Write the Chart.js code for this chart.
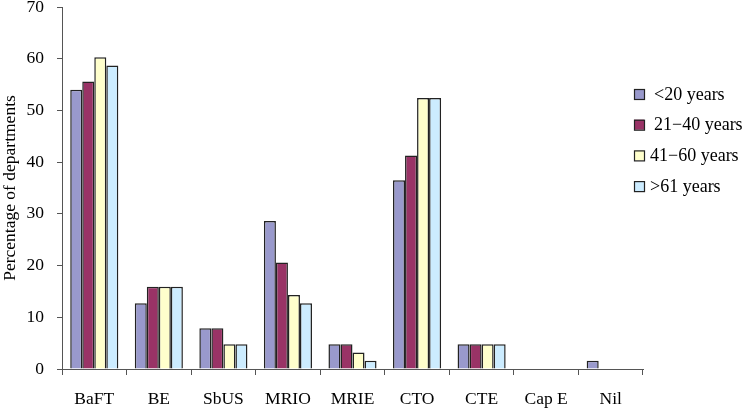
<!DOCTYPE html>
<html>
<head>
<meta charset="utf-8">
<script src="https://cdn.jsdelivr.net/npm/chart.js@4"></script>
<style>
html,body{margin:0;padding:0;background:#fff;}
#wrap{width:747px;height:408px;position:relative;}
</style>
</head>
<body>
<div id="wrap"><canvas id="c"></canvas></div>
<script>
const categories = ["BaFT", "BE", "SbUS", "MRIO", "MRIE", "CTO", "CTE", "Cap E", "Nil"];
const seriesNames = ["<20 years", "21\u221240 years", "41\u221260 years", ">61 years"];
const under20 = [54.0, 12.7, 7.9, 28.6, 4.8, 36.5, 4.8, 0, 1.6];
const age21to40 = [55.6, 15.9, 7.9, 20.6, 4.8, 41.3, 4.8, 0, 0];
const age41to60 = [60.3, 15.9, 4.8, 14.3, 3.2, 52.4, 4.8, 0, 0];
const over61 = [58.7, 15.9, 4.8, 12.7, 1.6, 52.4, 4.8, 0, 0];
const yTicks = [0, 10, 20, 30, 40, 50, 60, 70];
const yTitle = "Percentage of departments";

const colors = ["#9999CC", "#993366", "#FFFFCC", "#CCECFF"];
const seriesData = [under20, age21to40, age41to60, over61];
const FONT = "'Liberation Serif', 'Times New Roman', serif";

const legendPlugin = {
  id: 'customLegend',
  afterDraw(chart) {
    const ctx = chart.ctx;
    ctx.save();
    const x0 = 634, y0 = 94, step = 30.7, bs = 10;
    seriesNames.forEach((name, i) => {
      const cy = y0 + i * step;
      ctx.fillStyle = colors[i];
      ctx.fillRect(x0, cy - bs / 2, bs, bs);
      ctx.strokeStyle = '#222';
      ctx.lineWidth = 1.2;
      ctx.strokeRect(x0 + 0.5, cy - bs / 2 + 0.5, bs, bs);
      ctx.fillStyle = '#000';
      ctx.font = "18px " + FONT;
      ctx.textBaseline = 'middle';
      ctx.textAlign = 'left';
      const tx = (i < 2) ? x0 + 20 : x0 + 16;
      ctx.fillText(name, tx, cy + 1);
    });
    ctx.restore();
  }
};

new Chart(document.getElementById('c'), {
  type: 'bar',
  data: {
    labels: categories,
    datasets: seriesNames.map((n, i) => ({
      label: n,
      data: seriesData[i],
      backgroundColor: colors[i],
      borderColor: '#222222',
      borderWidth: 1.5,
      barPercentage: 1.0,
      categoryPercentage: 0.745
    }))
  },
  options: {
    responsive: true,
    maintainAspectRatio: false,
    animation: false,
    layout: { padding: { top: 7, right: 104, left: 0, bottom: 0 } },
    plugins: { legend: { display: false }, tooltip: { enabled: false } },
    scales: {
      x: {
        offset: true,
        afterFit(s) { s.height = 39; s.paddingLeft = 0; s.paddingRight = 0; },
        grid: { display: true, offset: true, drawOnChartArea: false, drawTicks: true, tickLength: 6, color: '#555', tickColor: '#555' },
        border: { display: true, color: '#555', width: 1 },
        ticks: { color: '#000', font: { family: FONT, size: 17.5 }, padding: 14, maxRotation: 0, autoSkip: false }
      },
      y: {
        min: 0, max: 70,
        afterFit(s) { s.width = 62; s.paddingTop = 0; s.paddingBottom = 0; },
        afterBuildTicks(s) { s.ticks = yTicks.map(v => ({ value: v })); },
        grid: { display: true, drawOnChartArea: false, drawTicks: true, tickLength: 5, color: '#555', tickColor: '#555' },
        border: { display: true, color: '#555', width: 1 },
        ticks: { color: '#000', font: { family: FONT, size: 17.5 }, padding: 13 },
        title: { display: true, text: yTitle, color: '#000', font: { family: FONT, size: 17.5 }, padding: { top: 0, bottom: 0 } }
      }
    }
  },
  plugins: [legendPlugin]
});
</script>
</body>
</html>
